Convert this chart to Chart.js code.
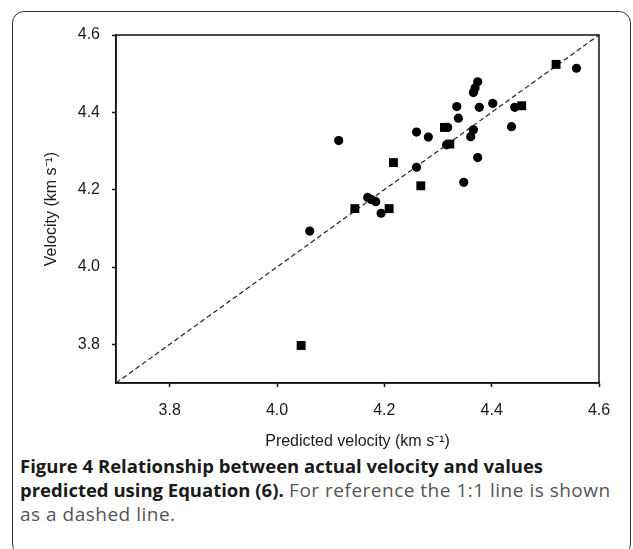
<!DOCTYPE html>
<html><head><meta charset="utf-8">
<script src="https://cdn.jsdelivr.net/npm/chart.js@4/dist/chart.umd.min.js"></script>
<style>
html,body{margin:0;padding:0;background:#fff;width:633px;height:549px;overflow:hidden;}
#frame{position:absolute;left:12px;top:11px;width:619px;height:545px;border:1.5px solid #333;border-radius:12px;box-sizing:border-box;}
#wrap{position:absolute;left:0;top:0;width:633px;height:549px;}
#caption{position:absolute;left:20px;top:454px;font-family:'Open Sans',sans-serif;font-size:19px;line-height:24px;color:#555;white-space:nowrap;letter-spacing:0.5px;}
#caption b{color:#1a1a1a;font-weight:700;font-size:18.5px;letter-spacing:0;}
</style></head>
<body>
<div id="frame"></div>
<div id="caption"><b>Figure 4 Relationship between actual velocity and values<br>predicted using Equation (6).</b> For reference the 1:1 line is shown<br>as a dashed line.</div>
<div id="wrap"><canvas id="c" width="633" height="549"></canvas></div>
<script>
// Data
const squarePredicted = [4.520, 4.456, 4.312, 4.322, 4.217, 4.268, 4.145, 4.209, 4.045];
const squareActual    = [4.524, 4.417, 4.361, 4.318, 4.270, 4.210, 4.151, 4.151, 3.797];
const circlePredicted = [4.558, 4.374, 4.369, 4.366, 4.335, 4.377, 4.402, 4.443, 4.338, 4.318, 4.437, 4.260, 4.282, 4.366, 4.361, 4.316, 4.115, 4.260, 4.374, 4.348, 4.169, 4.176, 4.184, 4.194, 4.061];
const circleActual    = [4.514, 4.479, 4.463, 4.451, 4.415, 4.413, 4.423, 4.413, 4.385, 4.361, 4.363, 4.349, 4.336, 4.355, 4.337, 4.316, 4.327, 4.258, 4.283, 4.219, 4.180, 4.174, 4.169, 4.139, 4.093];
const refLineX = [3.7, 4.6];
const refLineY = [3.7, 4.6];
const tickValues = [3.8, 4.0, 4.2, 4.4, 4.6];
const axisMin = 3.7, axisMax = 4.6;
const xTitle = 'Predicted velocity (km s\u207B\u00B9)';
const yTitle = 'Velocity (km s\u207B\u00B9)';

const toPts = (xs, ys) => xs.map((x, i) => ({x: x, y: ys[i]}));

Chart.defaults.font.family = "'Liberation Sans', Arial, sans-serif";
Chart.defaults.color = '#1a1a1a';

const boxPlugin = {
  id: 'box',
  afterDatasetsDraw(chart) {
    const {ctx, chartArea: a} = chart;
    ctx.save();
    ctx.strokeStyle = '#111';
    ctx.lineWidth = 1.5;
    ctx.strokeRect(a.left, a.top, a.right - a.left, a.bottom - a.top);
    ctx.restore();
  }
};

const axisCommon = {
  type: 'linear',
  min: axisMin, max: axisMax,
  afterBuildTicks: s => { s.ticks = tickValues.map(v => ({value: v})); },
  grid: {drawOnChartArea: false, drawTicks: true, tickLength: 4, tickColor: '#111', tickWidth: 1.5},
  border: {display: true, color: '#111', width: 1.5},
};

new Chart(document.getElementById('c'), {
  type: 'scatter',
  data: {
    datasets: [
      {
        label: '1:1', type: 'line', data: toPts(refLineX, refLineY),
        borderColor: '#222', borderWidth: 1.2, borderDash: [5, 3],
        pointRadius: 0, fill: false, order: 3
      },
      {
        label: 'squares', data: toPts(squarePredicted, squareActual),
        pointStyle: 'rect', pointRadius: 6.3, backgroundColor: '#000', borderWidth: 0, order: 1
      },
      {
        label: 'circles', data: toPts(circlePredicted, circleActual),
        pointStyle: 'circle', pointRadius: 4.6, backgroundColor: '#000', borderWidth: 0, order: 2
      }
    ]
  },
  options: {
    responsive: false, animation: false, devicePixelRatio: 1,
    layout: {padding: {left: 42, right: 34, top: 35, bottom: 98}},
    plugins: {legend: {display: false}, tooltip: {enabled: false}},
    scales: {
      x: Object.assign({}, axisCommon, {
        position: 'bottom',
        afterFit: s => { s.height = 68; },
        ticks: {padding: 14, font: {size: 16}, color: '#1a1a1a', callback: v => Number(v).toFixed(1)},
        title: {display: true, text: xTitle, font: {size: 16}, color: '#1a1a1a', padding: 0}
      }),
      y: Object.assign({}, axisCommon, {
        position: 'left',
        afterFit: s => { s.width = 74; },
        ticks: {padding: 12, font: {size: 16}, color: '#1a1a1a', callback: v => Number(v).toFixed(1)},
        title: {display: true, text: yTitle, font: {size: 16}, color: '#1a1a1a', padding: 0}
      })
    }
  },
  plugins: [boxPlugin]
});
</script>
</body></html>
